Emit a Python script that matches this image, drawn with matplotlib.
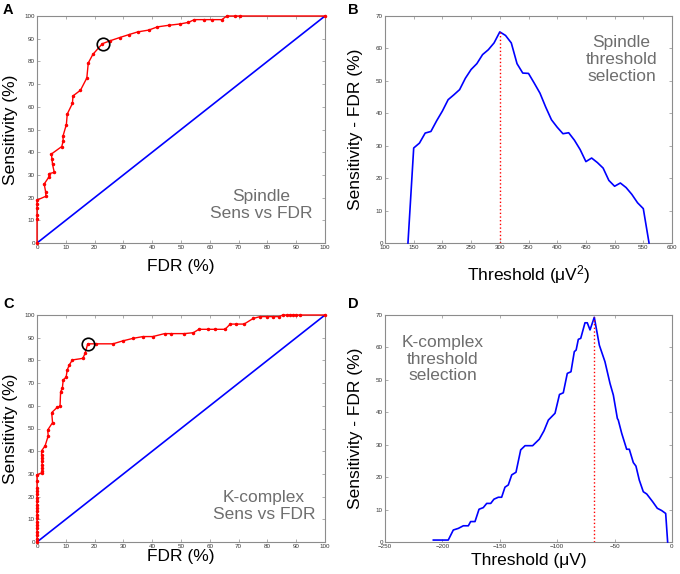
import numpy as np
import matplotlib.pyplot as plt

plt.rcParams['font.family'] = ['Liberation Sans', 'DejaVu Sans']
plt.rcParams['mathtext.fontset'] = 'custom'
plt.rcParams['mathtext.rm'] = 'Liberation Sans'
plt.rcParams['mathtext.it'] = 'Liberation Sans'

# Panel A: spindle ROC (FDR vs sensitivity)
spindle_fdr = [0, 0, 0, 0, 0, 0, 3.1, 3.0, 2.5, 4.2, 4.3, 6.0, 5.4, 5.2, 5.0, 8.6, 9.1, 9.0,
               10.2, 10.5, 12.3, 12.5, 15.1, 17.3, 17.8, 19.4, 22.7, 25.4, 28.7, 31.9, 35.0,
               38.8, 41.8, 45.7, 49.7, 52.6, 54.6, 58.0, 60.7, 64.2, 65.9, 68.8, 70.5, 100]
spindle_sens = [0, 10.4, 12.5, 15.2, 17.2, 18.9, 20.6, 22.5, 26.0, 29.2, 30.6, 31.1, 34.6, 37.0,
                39.2, 42.5, 45.0, 47.0, 52.2, 56.8, 61.5, 64.8, 67.3, 72.7, 79.3, 83.1, 87.8,
                89.1, 90.5, 91.8, 93.0, 93.8, 95.2, 95.9, 96.5, 97.2, 98.4, 98.4, 98.4, 98.4,
                100, 100, 100, 100]
spindle_best = (22.8, 87.8)

# Panel B: spindle threshold selection
spindle_thr = [140, 150, 160, 170, 180, 190, 200, 210, 220, 230, 240, 250, 260, 270, 280, 290,
               300, 310, 320, 330, 340, 350, 360, 370, 380, 390, 400, 410, 420, 430, 440, 450,
               460, 470, 480, 490, 500, 510, 520, 530, 540, 550, 560]
spindle_diff = [0, 29.3, 30.8, 33.9, 34.4, 37.7, 40.7, 44.2, 45.7, 47.3, 50.8, 53.5, 55.3, 58.1,
                59.6, 61.7, 65.1, 64.0, 61.7, 55.3, 52.4, 52.3, 49.3, 46.2, 41.9, 38.0, 35.7,
                33.7, 34.0, 31.7, 28.8, 25.1, 26.2, 24.8, 23.1, 19.3, 17.5, 18.5, 17.1, 15.0,
                12.4, 10.6, 0]
spindle_thr_best = 300

# Panel C: K-complex ROC
kc_fdr = [0, 0, 0, 0, 0, 0, 0, 0, 0, 0, 0, 0, 0, 0, 0, 0, 0, 0, 0,
          1.6, 1.85, 1.85, 1.8, 1.75, 1.7, 1.6, 1.6, 2.8, 3.9, 3.7, 5.4, 5.1, 7.0, 8.0, 8.2,
          8.8, 9.1, 10.1, 10.5, 11.2, 12.3, 15.9, 16.7, 17.6, 20.6, 26.4, 29.8, 33.3, 36.8,
          40.2, 44.3, 46.6, 51.2, 54.3, 56.2, 59.5, 61.8, 65.3, 67.1, 69.1, 71.9, 75.1, 77.5,
          79.8, 81.8, 84.2, 85.3, 86.7, 87.8, 88.9, 90.0, 91.3, 100]
kc_sens = [0, 1.5, 3, 4.5, 6, 7.5, 9, 10.5, 12, 13.5, 15, 16.5, 18, 19.5, 21, 22.5, 24, 27, 29.6,
           30.5, 31.4, 32.5, 34, 35.5, 37, 38.5, 40.2, 42.3, 46.8, 49.3, 52.6, 57.0, 59.3, 59.9,
           66.2, 67.7, 71.4, 72.6, 75.8, 78.0, 80.2, 80.9, 83.1, 87.3, 87.3, 87.3, 88.6, 89.7,
           90.5, 90.5, 91.8, 91.8, 91.8, 92.2, 93.7, 93.7, 93.7, 93.7, 96.0, 96.0, 96.0, 98.5,
           99.3, 99.3, 99.3, 99.3, 100, 100, 100, 100, 100, 100, 100]
kc_best = (17.6, 87.4)

# Panel D: K-complex threshold selection
kc_thr = [-207.9, -194.9, -190.5, -186.1, -181.8, -177.4, -175.4, -171.6, -168.1, -164.4,
          -161.4, -157.9, -155.1, -151.3, -148.4, -145.5, -142.6, -139.6, -135.9, -131.8,
          -128.0, -121.4, -115.6, -111.5, -107.7, -101.9, -98.0, -94.7, -91.2, -88.0, -85.1,
          -83.5, -81.6, -79.5, -75.8, -73.8, -71.4, -67.7, -63.3, -58.4, -54.0, -51.1, -47.6,
          -46.8, -43.8, -39.5, -37.2, -33.7, -31.4, -28.5, -25.0, -22.0, -16.8, -12.8, -9.0,
          -5.5, -3.8]
kc_diff = [0.6, 0.6, 3.7, 4.2, 5.0, 5.0, 6.3, 6.3, 10.1, 10.6, 11.9, 11.9, 13.2, 13.8, 13.8,
           16.9, 17.6, 20.7, 21.5, 28.4, 29.7, 29.7, 31.7, 34.3, 37.6, 39.7, 45.5, 46.0, 52.0,
           52.5, 58.7, 59.2, 62.5, 62.8, 67.6, 67.6, 65.4, 69.3, 60.7, 55.6, 48.9, 45.3, 38.1,
           37.6, 33.5, 28.6, 28.6, 24.5, 23.4, 19.1, 15.5, 14.8, 12.4, 10.4, 9.7, 8.8, 0]
kc_thr_best = -67.7

fig = plt.figure(figsize=(6.8, 5.74), dpi=100)
axA = fig.add_axes([37 / 680, 1 - 243 / 574, 288 / 680, 227 / 574])
axB = fig.add_axes([385 / 680, 1 - 243 / 574, 287 / 680, 227 / 574])
axC = fig.add_axes([37 / 680, 1 - 542 / 574, 288 / 680, 227 / 574])
axD = fig.add_axes([385 / 680, 1 - 542 / 574, 287 / 680, 227 / 574])

gray_txt = '#6e6e6e'


def style(ax):
    for s in ax.spines.values():
        s.set_color('#8c8c8c')
        s.set_linewidth(0.8)
    ax.tick_params(direction='in', length=2, width=0.5, color='#8c8c8c',
                   labelsize=4.5, labelcolor='#333333', pad=1.5,
                   top=True, right=True)


# A
axA.plot([0, 100], [0, 100], color='#0000ff', lw=1.2, clip_on=False, zorder=3)
axA.plot(spindle_fdr, spindle_sens, color='#ff0000', lw=1, marker='.', ms=3,
         clip_on=False, zorder=4)
axA.plot(*spindle_best, 'o', mfc='none', mec='k', ms=9, mew=1.2, zorder=5)
axA.set_xlim(0, 100)
axA.set_ylim(0, 100)
axA.set_xticks(range(0, 101, 10))
axA.set_yticks(range(0, 101, 10))
axA.text(77.7, 16.7, 'Spindle\nSens vs FDR', color=gray_txt, fontsize=12.5,
         ha='center', va='center', linespacing=1.15)
axA.set_xlabel('FDR (%)', fontsize=12.5)
axA.set_ylabel('Sensitivity (%)', fontsize=12.5)
axA.xaxis.set_label_coords(0.5, -0.07)
axA.yaxis.set_label_coords(-0.065, 0.5)

# B
axB.plot(spindle_thr, spindle_diff, color='#0000ff', lw=1.2, clip_on=False, zorder=3)
axB.plot([spindle_thr_best, spindle_thr_best], [0, max(spindle_diff)], color='#ff0000',
         lw=1, ls=':', zorder=4)
axB.set_xlim(100, 600)
axB.set_ylim(0, 70)
axB.set_xticks(range(100, 601, 50))
axB.set_yticks(range(0, 71, 10))
axB.text(512, 56.6, 'Spindle\nthreshold\nselection', color=gray_txt, fontsize=12.5,
         ha='center', va='center', linespacing=1.15)
axB.set_xlabel('Threshold (μV$^{2}$)', fontsize=12.5)
axB.set_ylabel('Sensitivity - FDR (%)', fontsize=12.5)
axB.xaxis.set_label_coords(0.5, -0.09)
axB.yaxis.set_label_coords(-0.078, 0.5)

# C
axC.plot([0, 100], [0, 100], color='#0000ff', lw=1.2, clip_on=False, zorder=3)
axC.plot(kc_fdr, kc_sens, color='#ff0000', lw=1, marker='.', ms=3,
         clip_on=False, zorder=4)
axC.plot(*kc_best, 'o', mfc='none', mec='k', ms=9, mew=1.2, zorder=5)
axC.set_xlim(0, 100)
axC.set_ylim(0, 100)
axC.set_xticks(range(0, 101, 10))
axC.set_yticks(range(0, 101, 10))
axC.text(78.8, 15.9, 'K-complex\nSens vs FDR', color=gray_txt, fontsize=12.5,
         ha='center', va='center', linespacing=1.15)
axC.set_xlabel('FDR (%)', fontsize=12.5)
axC.set_ylabel('Sensitivity (%)', fontsize=12.5)
axC.xaxis.set_label_coords(0.5, -0.033)
axC.yaxis.set_label_coords(-0.065, 0.5)

# D
axD.plot(kc_thr, kc_diff, color='#0000ff', lw=1.2, clip_on=False, zorder=3)
axD.plot([kc_thr_best, kc_thr_best], [0, max(kc_diff)], color='#ff0000', lw=1, ls=':',
         zorder=4)
axD.set_xlim(-250, 0)
axD.set_ylim(0, 70)
axD.set_xticks(range(-250, 1, 50))
axD.set_yticks(range(0, 71, 10))
axD.text(-199.7, 56.4, 'K-complex\nthreshold\nselection', color=gray_txt, fontsize=12.5,
         ha='center', va='center', linespacing=1.15)
axD.set_xlabel('Threshold (μV)', fontsize=12.5)
axD.set_ylabel('Sensitivity - FDR (%)', fontsize=12.5)
axD.xaxis.set_label_coords(0.5, -0.05)
axD.yaxis.set_label_coords(-0.078, 0.5)

for ax in (axA, axB, axC, axD):
    style(ax)

for lab, x, y in (('A', 3, 3), ('B', 348, 3), ('C', 3, 297), ('D', 348, 297)):
    fig.text(x / 680, 1 - y / 574, lab, fontsize=10.5, fontweight='bold', ha='left', va='top')

fig.savefig('out.png', dpi=100)
